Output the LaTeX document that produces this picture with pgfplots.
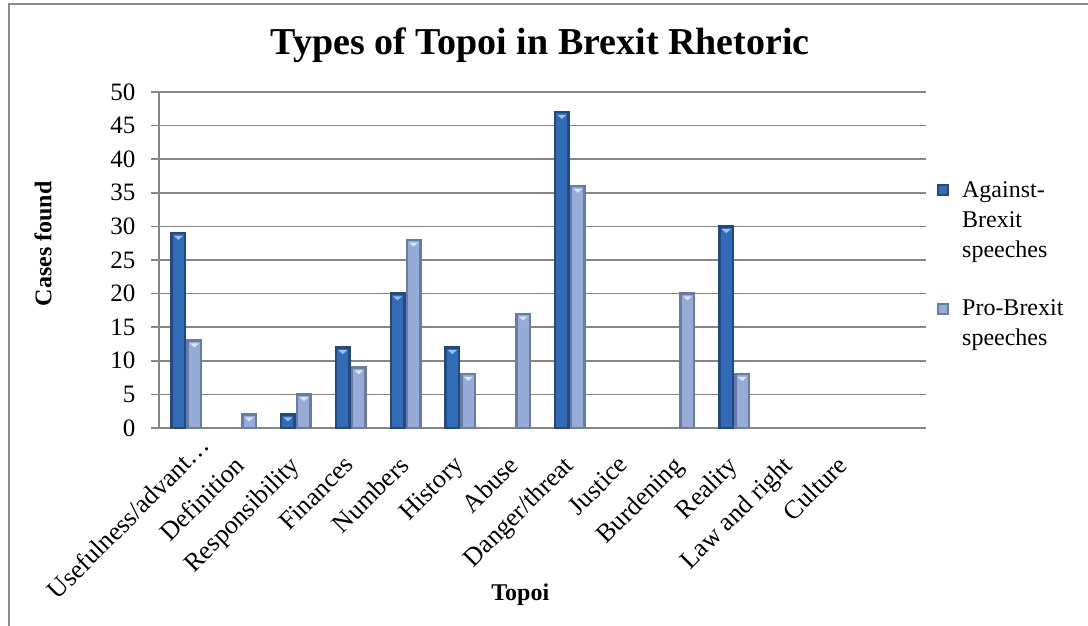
\documentclass[border=0pt]{standalone}
\usepackage{fontspec}
\setmainfont{Liberation Serif}
\usepackage{pgfplots}
\pgfplotsset{compat=1.18}
\usetikzlibrary{shapes.geometric}

\definecolor{gridgray}{RGB}{134,134,134}
\definecolor{frame}{RGB}{140,140,140}
\definecolor{againstEdge}{RGB}{34,74,128}
\definecolor{againstFill}{RGB}{50,108,182}
\definecolor{againstTop}{RGB}{150,196,240}
\definecolor{proEdge}{RGB}{104,124,166}
\definecolor{proFill}{RGB}{150,172,214}
\definecolor{proTop}{RGB}{214,230,250}

\begin{document}
\begin{tikzpicture}[x=1pt,y=1pt]
\path[use as bounding box] (0,0) rectangle (1088,625);
% chart frame (left and top edges)
\draw[frame, line width=2pt] (9,-2) -- (9,621) -- (1090,621);
\begin{axis}[
  at={(159pt,197pt)}, anchor=south west,
  scale only axis, width=767pt, height=336pt,
  ybar=2.5pt, bar width=13.5pt,
  xmin=-0.5, xmax=13.5, ymin=0, ymax=50,
  ytick={0,5,...,50},
  xtick={0,...,12},
  xticklabels={{Usefulness/advant…\kern-28pt},Definition,Responsibility,Finances,Numbers,History,Abuse,Danger/threat,Justice,Burdening,Reality,Law and right,Culture},
  axis x line*=bottom, axis y line*=left,
  axis line style={gridgray, line width=1.5pt},
  ymajorgrids, grid style={gridgray, line width=1.5pt},
  tick align=outside, major tick length=8pt,
  xtick style={draw=none},
  ytick style={gridgray, line width=1.5pt},
  /pgf/number format/assume math mode=true,
  yticklabel style={font=\fontsize{25}{29}\selectfont, xshift=-12pt},
  xticklabel style={font=\fontsize{26}{30}\selectfont, inner sep=0pt, anchor=north east, xshift=-8pt, yshift=-18pt, rotate=45},
  title={Types of Topoi in Brexit Rhetoric},
  title style={at={(axis description cs:0.497,1.095)}, anchor=base, font=\bfseries\fontsize{38}{44}\selectfont},
  xlabel={Topoi},
  xlabel style={at={(axis description cs:0.471,-0.497)}, anchor=center, font=\bfseries\fontsize{24}{28}\selectfont},
  ylabel={Cases found},
  ylabel style={at={(axis description cs:-0.151,0.548)}, anchor=center, rotate=0, font=\bfseries\fontsize{24}{28}\selectfont},
  legend style={at={(axis description cs:1.0143,0.756)}, anchor=north west, draw=none, fill=none, inner sep=0pt,
    font=\fontsize{24}{30}\selectfont, cells={anchor=base west, inner sep=0pt}, column sep=11pt, row sep=92pt},
  % small bevel triangle at the top of every bar
  nodes near coords={\relax},
  every node near coord/.append style={shape=isosceles triangle, shape border rotate=-90,
    isosceles triangle stretches=true, minimum width=9pt, minimum height=4pt,
    inner sep=0pt, anchor=north, yshift=-1.5pt},
]
% Against-Brexit speeches (categories with no cases are left out)
\addplot[fill=againstFill, draw=againstEdge, line width=2.5pt,
  every node near coord/.append style={fill=againstTop, draw=none},
  legend image code/.code={\path[fill=againstFill, draw=againstEdge, line width=2pt] (1pt,2pt) rectangle (11pt,12pt);}]
  coordinates {(0,29) (2,2) (3,12) (4,20) (5,12) (7,47) (10,30)};
\addlegendentry{\begin{tabular}[t]{@{}l@{}}Against-\\Brexit\\speeches\end{tabular}}
% Pro-Brexit speeches
\addplot[fill=proFill, draw=proEdge, line width=2.5pt,
  every node near coord/.append style={fill=proTop, draw=none},
  legend image code/.code={\path[fill=proFill, draw=proEdge, line width=2pt] (1pt,2pt) rectangle (11pt,12pt);}]
  coordinates {(0,13) (1,2) (2,5) (3,9) (4,28) (5,8) (6,17) (7,36) (9,20) (10,8)};
\addlegendentry{\begin{tabular}[t]{@{}l@{}}Pro-Brexit\\speeches\end{tabular}}
\end{axis}
\end{tikzpicture}
\end{document}
